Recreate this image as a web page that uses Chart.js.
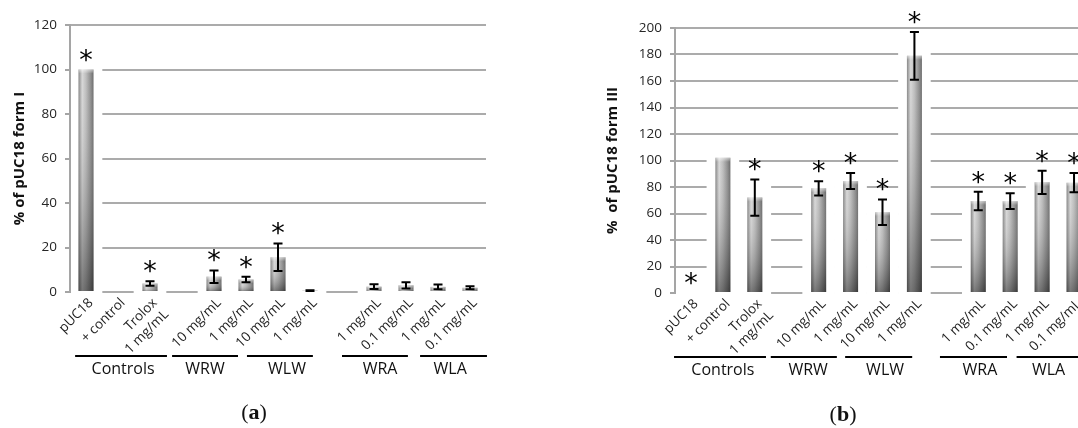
<!DOCTYPE html>
<html><head><meta charset="utf-8">
<script src="https://cdn.jsdelivr.net/npm/chart.js@4.4.1/dist/chart.umd.min.js"></script>
<style>
html,body{margin:0;padding:0;background:#fff;width:1078px;height:428px;overflow:hidden;position:relative}
#ca{position:absolute;left:0;top:0}
#cb{position:absolute;left:540px;top:0}
.cap{position:absolute;font-family:"Liberation Serif","DejaVu Serif",serif;font-size:22px;color:#111;transform:translate(-50%,-50%);white-space:nowrap}
</style></head><body>
<canvas id="ca" width="540" height="428"></canvas>
<canvas id="cb" width="560" height="428"></canvas>
<div class="cap" style="left:254px;top:412px">(<b>a</b>)</div>
<div class="cap" style="left:843px;top:414px">(<b>b</b>)</div>
<script>
// ---------- data ----------
const categories = ['pUC18', '+ control', ['Trolox', '1 mg/mL'], '', '10 mg/mL', '1 mg/mL', '10 mg/mL', '1 mg/mL', '', '1 mg/mL', '0.1 mg/mL', '1 mg/mL', '0.1 mg/mL'];
const groupNames = ['Controls', 'WRW', 'WLW', 'WRA', 'WLA'];

const formI    = [100, null, 3.8, null, 6.9, 5.6, 15.6, 0.6, null, 2.4, 3.0, 2.3, 1.9];
const formIErr = [0,   null, 1.0, null, 2.8, 1.2, 6.2,  0.2, null, 1.1, 1.4, 1.1, 0.7];
const formISig = [true, false, true, false, true, true, true, false, false, false, false, false, false];

const formIII    = [0, 102, 72, null, 79, 84.5, 61, 179, null, 69.5, 69.3, 83.5, 83.3];
const formIIIErr = [0, 0, 13.7, null, 5.4, 6, 9.6, 18, null, 7, 5.9, 8.7, 7.2];
const formIIISig = [true, false, true, false, true, true, true, true, false, true, true, true, true];

const yTicksA = [0, 20, 40, 60, 80, 100, 120];
const yTicksB = [0, 20, 40, 60, 80, 100, 120, 140, 160, 180, 200];

// ---------- layout / style (category-unit spans for group brackets) ----------
const bracketsA = [[-0.34, 2.53, 1.16], [2.69, 4.75, 3.72], [5.03, 7.09, 6.28], [8.0, 10.06, 9.19], [10.44, 12.53, 11.38]];
const bracketsB = [[-0.53, 2.35, 1.0], [2.5, 4.57, 3.67], [4.83, 6.93, 6.08], [7.8, 9.9, 9.05], [10.2, 12.4, 11.2]];
const BAR_PCT = 0.47;
const FONT = '"Open Sans", "Liberation Sans", sans-serif';

function baseFill(c) {
  const chart = c.chart;
  if (!chart.chartArea || c.dataIndex === undefined) return '#999';
  const x = chart.scales.x;
  const cw = x.getPixelForValue(1) - x.getPixelForValue(0);
  const cx = x.getPixelForValue(c.dataIndex), bw = cw * BAR_PCT;
  const g = chart.ctx.createLinearGradient(cx - bw / 2, 0, cx + bw / 2, 0);
  g.addColorStop(0, '#808080');
  g.addColorStop(0.25, '#d6d6d6');
  g.addColorStop(0.5, '#bababa');
  g.addColorStop(0.82, '#878787');
  g.addColorStop(1, '#646464');
  return g;
}
function shadeFill(c) {
  const chart = c.chart;
  if (!chart.chartArea || c.raw == null) return 'rgba(0,0,0,0)';
  const y = chart.scales.y;
  const top = y.getPixelForValue(c.raw), bot = y.getPixelForValue(0);
  if (bot - top < 1) return 'rgba(0,0,0,0.3)';
  const g = chart.ctx.createLinearGradient(0, top, 0, bot);
  g.addColorStop(0, 'rgba(255,255,255,0.55)');
  g.addColorStop(Math.min(0.5, 4 / (bot - top)), 'rgba(255,255,255,0.05)');
  g.addColorStop(1, 'rgba(0,0,0,0.45)');
  return g;
}

function annotPlugin(vals, errs, sigs, brackets) {
  return {
    id: 'annot',
    afterDatasetsDraw(chart) {
      const { ctx, scales: { x, y }, chartArea } = chart;
      const cw = x.getPixelForValue(1) - x.getPixelForValue(0);
      ctx.save();
      ctx.strokeStyle = '#000';
      ctx.lineWidth = 2;
      vals.forEach((v, i) => {
        if (v == null) return;
        const e = errs[i] || 0;
        const cx = x.getPixelForValue(i);
        if (e > 0) {
          const t = y.getPixelForValue(v + e), b = y.getPixelForValue(v - e);
          ctx.beginPath();
          ctx.moveTo(cx, t); ctx.lineTo(cx, b);
          ctx.moveTo(cx - 4.5, t); ctx.lineTo(cx + 4.5, t);
          ctx.moveTo(cx - 4.5, b); ctx.lineTo(cx + 4.5, b);
          ctx.stroke();
        }
        if (sigs[i]) {
          const top = y.getPixelForValue(v + e);
          ctx.fillStyle = '#000';
          ctx.font = '27px "DejaVu Sans"';
          ctx.textAlign = 'center';
          ctx.textBaseline = 'alphabetic';
          ctx.fillText('*', cx, top - 16 + 15);
        }
      });
      const x0 = x.getPixelForValue(0);
      ctx.fillStyle = '#111';
      ctx.font = '16px ' + FONT;
      ctx.textAlign = 'center';
      ctx.textBaseline = 'middle';
      brackets.forEach((b, k) => {
        const ly = chartArea.bottom + 64;
        ctx.beginPath();
        ctx.moveTo(x0 + b[0] * cw, ly); ctx.lineTo(x0 + b[1] * cw, ly);
        ctx.stroke();
        ctx.fillText(groupNames[k], x0 + b[2] * cw, chartArea.bottom + 77);
      });
      ctx.restore();
    }
  };
}

function makeChart(id, vals, errs, sigs, ticks, title, maskUsesErr, brackets, yWidth, xHeight, padding, titlePad) {
  const pad = (ticks[ticks.length - 1] - ticks[0]) / 120;
  const mask = vals.map((v, i) => v == null ? null : [-pad, v + (maskUsesErr ? (errs[i] || 0) : 0) + pad * 1.2]);
  return new Chart(document.getElementById(id), {
    type: 'bar',
    data: {
      labels: categories,
      datasets: [
        { data: mask, backgroundColor: '#fff', borderWidth: 0, barPercentage: 1, categoryPercentage: 1, grouped: false, order: 3, clip: false },
        { data: vals, backgroundColor: baseFill, borderWidth: 0, barPercentage: BAR_PCT, categoryPercentage: 1, grouped: false, order: 2 },
        { data: vals, backgroundColor: shadeFill, borderWidth: 0, barPercentage: BAR_PCT, categoryPercentage: 1, grouped: false, order: 1 }
      ]
    },
    options: {
      responsive: false,
      animation: false,
      layout: { padding: padding },
      plugins: { legend: { display: false }, tooltip: { enabled: false } },
      scales: {
        x: {
          grid: { display: false, drawTicks: false },
          border: { display: false },
          ticks: { autoSkip: false, maxRotation: 45, minRotation: 45, padding: 3, labelOffset: 5, color: '#1e1e1e', font: { family: FONT, size: 13.5 } },
          afterFit: s => { s.height = xHeight; }
        },
        y: {
          min: ticks[0], max: ticks[ticks.length - 1],
          ticks: { stepSize: ticks[1] - ticks[0], padding: 8, color: '#262626', font: { family: FONT, size: 13.5 } },
          grid: { color: '#ababab', lineWidth: 2, tickLength: 5, tickColor: '#a5a5a5' },
          border: { color: '#a5a5a5', width: 2, z: 1 },
          title: { display: true, text: title, color: '#111', font: { family: FONT, size: 15, weight: 'bold' }, padding: { top: titlePad, bottom: 0 } },
          afterFit: s => { s.width = yWidth; }
        }
      }
    },
    plugins: [annotPlugin(vals, errs, sigs, brackets)]
  });
}

makeChart('ca', formI, formIErr, formISig, yTicksA, '% of pUC18 form I', false, bracketsA, 70, 136, { left: 0, top: 25, right: 54, bottom: 0 }, 11);
makeChart('cb', formIII, formIIIErr, formIIISig, yTicksB, '%  of pUC18 form III', true, bracketsB, 135, 135, { left: 0, top: 28, right: 10, bottom: 0 }, 64);
</script>
</body></html>
